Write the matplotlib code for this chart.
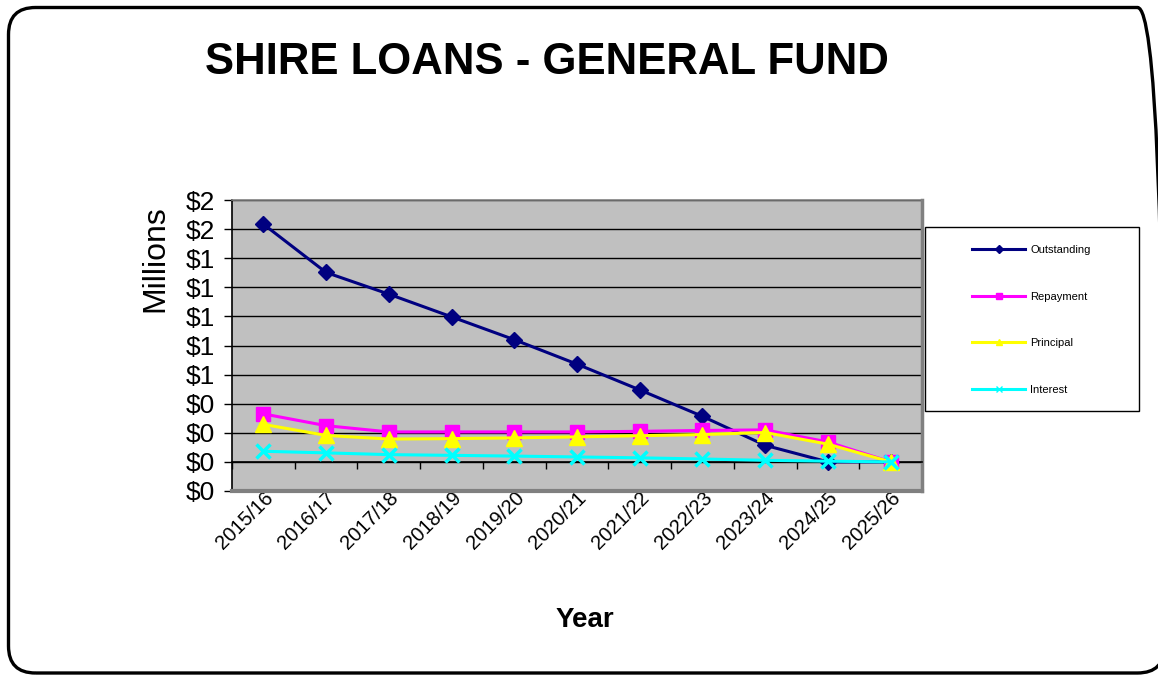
import matplotlib
matplotlib.use("Agg")
import matplotlib.pyplot as plt
import numpy as np
from matplotlib.lines import Line2D
from matplotlib.patches import FancyBboxPatch, Rectangle
from matplotlib.ticker import FuncFormatter, FixedLocator

plt.rcParams['font.family'] = ['Liberation Sans', 'DejaVu Sans']

# Loan figures, $ millions
years = ["2015/16", "2016/17", "2017/18", "2018/19", "2019/20", "2020/21",
         "2021/22", "2022/23", "2023/24", "2024/25", "2025/26"]
outstanding = [1.634, 1.302, 1.153, 0.997, 0.840, 0.672, 0.495, 0.313, 0.114, 0.0, 0.0]
repayment = [0.330, 0.249, 0.206, 0.206, 0.206, 0.206, 0.210, 0.216, 0.220, 0.137, 0.0]
principal = [0.258, 0.182, 0.157, 0.160, 0.165, 0.172, 0.180, 0.188, 0.202, 0.122, 0.0]
interest = [0.073, 0.062, 0.050, 0.045, 0.040, 0.034, 0.028, 0.020, 0.011, 0.005, 0.0]

series = [
    ("Outstanding", outstanding, "#000080", "D", 8.5, 1),
    ("Repayment", repayment, "#FF00FF", "s", 10.5, 1),
    ("Principal", principal, "#FFFF00", "^", 11, 1),
    ("Interest", interest, "#00FFFF", "x", 10, 2.5),
]

fig = plt.figure(figsize=(11.58, 6.75), dpi=100)
ax = fig.add_axes([232 / 1158, 1 - 491 / 675, 690 / 1158, 291 / 675])
ax.set_facecolor("#C0C0C0")

x = np.arange(len(years))
for name, vals, color, marker, ms, mew in series:
    ax.plot(x, vals, color=color, lw=2.2, marker=marker, markersize=ms,
            markeredgewidth=mew, markeredgecolor=color, zorder=3)

# value axis
ax.set_ylim(-0.2, 1.8)
ax.set_yticks(np.arange(-0.2, 1.81, 0.2))
ax.yaxis.set_major_formatter(FuncFormatter(lambda v, p: "$%d" % int(abs(v) + 0.5)))
ax.grid(axis="y", color="black", lw=1)
ax.set_axisbelow(True)
ax.tick_params(axis="y", labelsize=19, length=6, width=1, direction="out", pad=6)

# category axis sits on zero
ax.set_xlim(-0.5, len(years) - 0.5)
ax.spines["bottom"].set_position(("data", 0))
ax.set_xticks(x)
ax.set_xticklabels(years)
ax.xaxis.set_minor_locator(FixedLocator(np.arange(-0.5, len(years), 1.0)))
ax.tick_params(axis="x", which="minor", length=5, width=1, direction="out")
ax.tick_params(axis="x", which="major", length=0, labelsize=14.5, pad=19)
for lab in ax.get_xticklabels():
    lab.set_rotation(45)
    lab.set_ha("right")
    lab.set_rotation_mode("anchor")

ax.spines["left"].set_color("black")
ax.spines["left"].set_linewidth(1.2)
ax.spines["bottom"].set_linewidth(1.2)
ax.spines["right"].set_color("#808080")
ax.spines["right"].set_linewidth(2.5)
ax.spines["top"].set_color("#808080")
ax.spines["top"].set_linewidth(1.2)
ax.axhline(-0.2, color="#808080", lw=3, clip_on=False, zorder=4)

# labels
fig.text(547 / 1158, 1 - 63 / 675, "SHIRE LOANS - GENERAL FUND", ha="center",
         va="center", fontsize=31.5, fontweight="bold")
fig.text(155 / 1158, 1 - 259 / 675, "Millions", ha="center", va="center",
         rotation=90, fontsize=23)
fig.text(585 / 1158, 1 - 620 / 675, "Year", ha="center", va="center",
         fontsize=20, fontweight="bold")

# legend box
fig.patches.append(Rectangle((925 / 1158, 1 - 411 / 675), 214 / 1158, 184 / 675,
                             transform=fig.transFigure, facecolor="white",
                             edgecolor="black", lw=1))
handles = [Line2D([], [], color=c, lw=2.2, marker=m, markersize=4,
                  markeredgewidth=1, markeredgecolor=c)
           for _, _, c, m, _, _ in series]
fig.legend(handles, [s[0] for s in series], loc="upper left",
           bbox_to_anchor=(972 / 1158, 1 - 245 / 675), frameon=False,
           fontsize=8, handlelength=4.8, handletextpad=0.45, labelspacing=3.3,
           borderpad=0, borderaxespad=0)

# rounded outer frame
fig.patches.append(FancyBboxPatch((0.085, 0.02), 11.56, 6.655,
                                  boxstyle="round,pad=0,rounding_size=0.27",
                                  transform=fig.dpi_scale_trans, facecolor="none",
                                  edgecolor="black", lw=2.4))

fig.savefig("out.png", dpi=100)
